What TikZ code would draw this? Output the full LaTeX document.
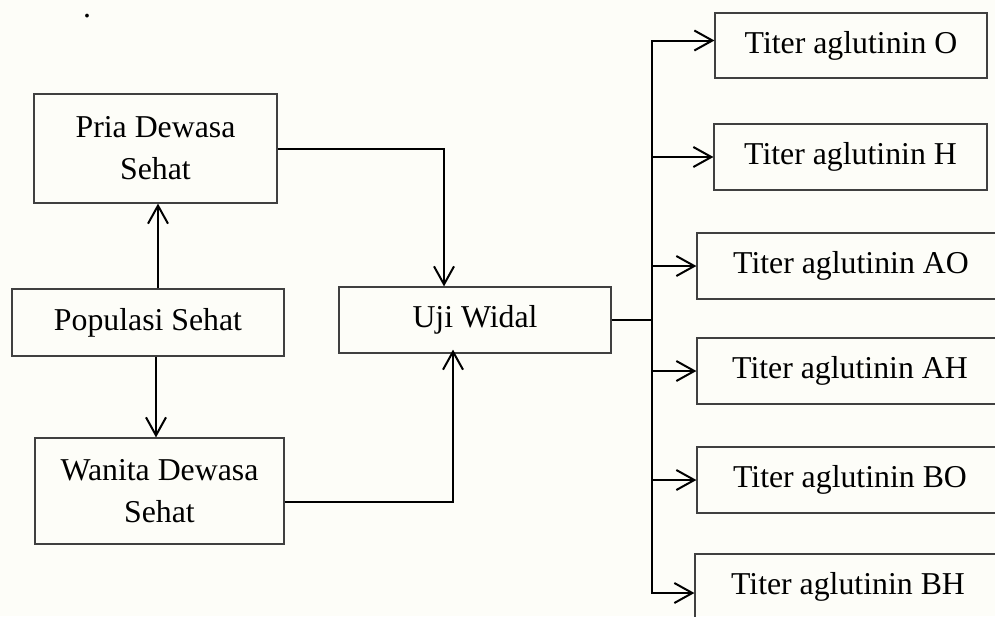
\documentclass[tikz,border=0pt]{standalone}
\usepackage{fontspec}
\setmainfont{Liberation Serif}
\usetikzlibrary{arrows.meta}
\definecolor{latar}{RGB}{253,253,248}
\begin{document}
\begin{tikzpicture}[x=0.5pt,y=-0.5pt,every text node part/.style={align=center},
	kotak/.style={draw=black!75, line width=0.6pt, inner sep=0pt, font=\fontsize{15.9}{21}\selectfont},
	garis/.style={draw=black, line width=1pt},
	panah/.style={garis, -{Straight Barb[length=9pt,width=10pt,line width=1pt]}}]
	\clip (0,0) rectangle (995,616);
	\fill[latar] (0,0) rectangle (995,616);

	\node[font=\fontsize{15.9}{21}\selectfont, anchor=base, inner sep=0pt] (titik) at (87,17) {.};

				\begin{scope}
	\node[kotak, minimum width=121.5pt, minimum height=54.5pt] (pria) at (155.5,148.5) {Pria Dewasa\\Sehat};
	\node[kotak, minimum width=136pt, minimum height=33.5pt] (populasi) at (148,322.5) {Populasi Sehat};
	\node[kotak, minimum width=124.5pt, minimum height=53pt] (wanita) at (159.5,491) {Wanita Dewasa\\Sehat};
	\node[kotak, minimum width=136pt, minimum height=33pt] (uji) at (475,320) {Uji Widal};

	\draw[panah] ([xshift=5pt]populasi.north) -- ([xshift=5pt]populasi.north |- pria.south);
	\draw[panah] ([xshift=4pt]populasi.south) -- ([xshift=4pt]populasi.south |- wanita.north);
	\draw[panah] (pria.east) -| ([xshift=-15.5pt]uji.north);
	\draw[panah] ([yshift=-5.5pt]wanita.east) -| ([xshift=-11pt,yshift=2pt]uji.south);
				\end{scope}

				\begin{scope}
	\node[kotak, minimum width=136pt, minimum height=32.5pt] (titerO) at (851,45.5) {Titer aglutinin O};
	\node[kotak, minimum width=136.5pt, minimum height=33pt] (titerH) at (850.5,157) {Titer aglutinin H};
	\node[kotak, minimum width=154pt, minimum height=33pt] (titerAO) at (851,266) {Titer aglutinin AO};
	\node[kotak, minimum width=153pt, minimum height=33pt] (titerAH) at (850,371) {Titer aglutinin AH};
	\node[kotak, minimum width=153pt, minimum height=33pt] (titerBO) at (850,480) {Titer aglutinin BO};
	\node[kotak, minimum width=153pt, minimum height=33pt] (titerBH) at (848,587) {Titer aglutinin BH};

	\coordinate (cabang) at (652,320);
	\draw[garis] (uji.east) -- (cabang);
	\draw[panah] (cabang) |- ([yshift=2.5pt]titerO.west);
	\draw[panah] (cabang |- titerH.west) -- (titerH.west);
	\draw[panah] (cabang |- titerAO.west) -- (titerAO.west);
	\draw[panah] (cabang |- titerAH.west) -- (titerAH.west);
	\draw[panah] (cabang |- titerBO.west) -- (titerBO.west);
	\draw[panah] (cabang) |- ([yshift=-3pt]titerBH.west);
				\end{scope}

\end{tikzpicture}
\end{document}
